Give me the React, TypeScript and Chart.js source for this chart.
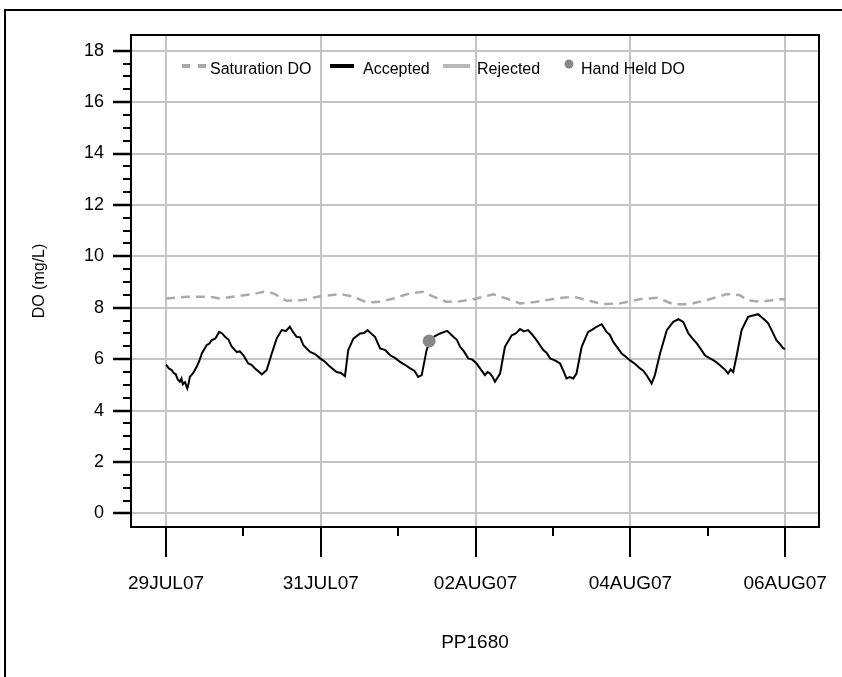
import React, { useEffect, useRef } from "react";
import { Chart, registerables } from "chart.js";

Chart.register(...registerables);

// hours since 29JUL07 00:00
const xTickHours = [0, 48, 96, 144, 192];
const xTickLabels = ["29JUL07", "31JUL07", "02AUG07", "04AUG07", "06AUG07"];
const xMinorHours = [24, 72, 120, 168];
const yTickValues = [0, 2, 4, 6, 8, 10, 12, 14, 16, 18];

const satHours = [0, 6.4, 13.6, 16.7, 21.9, 27.1, 30.2, 33.3, 37.4, 42.6, 47.8, 54.0, 58.1, 62.2, 66.4, 70.5, 75.7, 79.8, 82.9, 87.0, 90.1, 95.3, 101.5, 105.6, 109.8, 114.9, 121.1, 126.3, 130.4, 135.6, 140.8, 147.0, 152.2, 157.3, 162.5, 167.7, 173.9, 178.0, 180.1, 184.2, 190.4, 192.0];
const satDO = [8.36, 8.43, 8.43, 8.36, 8.45, 8.53, 8.62, 8.56, 8.27, 8.30, 8.45, 8.53, 8.43, 8.21, 8.23, 8.36, 8.56, 8.62, 8.43, 8.23, 8.23, 8.33, 8.52, 8.36, 8.17, 8.23, 8.36, 8.43, 8.30, 8.14, 8.17, 8.33, 8.39, 8.14, 8.14, 8.30, 8.53, 8.49, 8.30, 8.23, 8.33, 8.33];

const accHours = [0, 0.9, 1.8, 2.4, 3.0, 3.6, 4.3, 4.8, 5.2, 5.9, 6.6, 7.0, 7.4, 8.4, 9.5, 10.3, 11.1, 12.6, 13.4, 14.2, 15.3, 16.5, 17.4, 18.3, 19.4, 20.4, 21.9, 22.9, 24.0, 25.5, 26.5, 27.6, 28.7, 29.7, 31.2, 32.8, 34.3, 35.9, 37.2, 38.4, 39.4, 40.5, 41.6, 42.6, 44.7, 46.2, 47.8, 49.3, 50.9, 52.9, 54.2, 55.5, 56.5, 58.1, 60.2, 61.4, 62.5, 63.6, 64.8, 66.4, 68.0, 69.5, 71.0, 72.6, 74.1, 75.7, 77.0, 78.2, 79.3, 80.8, 81.9, 83.4, 85.0, 87.2, 89.1, 90.2, 91.2, 92.4, 93.7, 95.0, 96.3, 97.6, 98.9, 99.7, 100.5, 101.3, 102.0, 103.6, 105.1, 107.2, 108.5, 109.8, 111.0, 112.3, 113.6, 114.9, 117.0, 118.0, 119.1, 120.6, 122.2, 123.2, 124.2, 125.2, 126.3, 127.3, 128.9, 130.9, 132.2, 133.5, 135.1, 136.6, 137.6, 138.7, 140.0, 141.3, 142.5, 143.8, 145.4, 147.0, 148.0, 149.0, 150.6, 151.6, 153.2, 155.3, 157.3, 158.9, 160.4, 162.0, 163.3, 164.6, 165.8, 167.1, 168.4, 169.7, 171.0, 172.3, 173.3, 174.3, 175.1, 175.9, 176.9, 178.5, 180.5, 182.0, 183.6, 185.7, 186.7, 187.8, 189.3, 190.3, 191.4, 192.0];
const accDO = [5.79, 5.64, 5.57, 5.45, 5.42, 5.22, 5.12, 5.25, 5.02, 5.10, 4.86, 5.05, 5.31, 5.45, 5.70, 5.92, 6.22, 6.54, 6.60, 6.74, 6.80, 7.06, 7.00, 6.87, 6.75, 6.48, 6.28, 6.30, 6.15, 5.83, 5.78, 5.64, 5.52, 5.41, 5.57, 6.22, 6.80, 7.13, 7.10, 7.26, 7.05, 6.87, 6.85, 6.54, 6.28, 6.20, 6.03, 5.90, 5.70, 5.50, 5.46, 5.34, 6.35, 6.80, 7.00, 7.02, 7.13, 7.00, 6.87, 6.42, 6.35, 6.15, 6.05, 5.89, 5.78, 5.64, 5.55, 5.31, 5.38, 6.35, 6.74, 6.90, 7.00, 7.10, 6.87, 6.75, 6.48, 6.30, 6.03, 5.98, 5.83, 5.60, 5.38, 5.50, 5.44, 5.30, 5.12, 5.44, 6.48, 6.93, 7.00, 7.17, 7.08, 7.13, 6.95, 6.74, 6.35, 6.25, 6.03, 5.95, 5.83, 5.55, 5.25, 5.30, 5.25, 5.44, 6.48, 7.06, 7.15, 7.26, 7.36, 7.06, 6.95, 6.67, 6.45, 6.22, 6.10, 5.96, 5.82, 5.64, 5.55, 5.38, 5.05, 5.38, 6.22, 7.13, 7.45, 7.56, 7.45, 7.00, 6.80, 6.61, 6.40, 6.15, 6.05, 5.96, 5.85, 5.70, 5.60, 5.44, 5.60, 5.50, 6.09, 7.13, 7.65, 7.70, 7.75, 7.52, 7.40, 7.13, 6.74, 6.60, 6.42, 6.40];

const handHours = [81.6];
const handDO = [6.71];

const legendLabels = ["Saturation DO", "Accepted", "Rejected", "Hand Held DO"];

const FONT = "'Liberation Sans', Arial, sans-serif";

const decorPlugin = {
  id: "decor",
  afterDatasetsDraw(chart: any) {
    const { ctx, chartArea } = chart;
    ctx.save();
    ctx.strokeStyle = "#000";
    ctx.lineWidth = 2;
    ctx.strokeRect(chartArea.left, chartArea.top, chartArea.right - chartArea.left, chartArea.bottom - chartArea.top);
    ctx.restore();
  },
  afterDraw(chart: any) {
    const { ctx, chartArea, scales } = chart;
    const xs = scales.x;
    const ys = scales.y;
    ctx.save();
    ctx.strokeStyle = "#000";
    // y ticks
    for (let v = 0; v <= 18.001; v += 0.5) {
      const y = Math.round(ys.getPixelForValue(v));
      const major = Math.abs(v % 2) < 1e-6;
      ctx.lineWidth = major ? 2.5 : 2;
      ctx.beginPath();
      ctx.moveTo(chartArea.left - (major ? 18 : 8), y);
      ctx.lineTo(chartArea.left, y);
      ctx.stroke();
    }
    // x ticks
    ctx.lineWidth = 2;
    xTickHours.forEach((h) => {
      const x = Math.round(xs.getPixelForValue(h));
      ctx.beginPath();
      ctx.moveTo(x, chartArea.bottom);
      ctx.lineTo(x, chartArea.bottom + 30);
      ctx.stroke();
    });
    xMinorHours.forEach((h) => {
      const x = Math.round(xs.getPixelForValue(h));
      ctx.beginPath();
      ctx.moveTo(x, chartArea.bottom);
      ctx.lineTo(x, chartArea.bottom + 9);
      ctx.stroke();
    });

    // legend
    const ly = 66;
    ctx.font = `16px ${FONT}`;
    ctx.fillStyle = "#000";
    ctx.textBaseline = "alphabetic";
    // Saturation DO
    ctx.strokeStyle = "#aaaaaa";
    ctx.lineWidth = 4;
    ctx.beginPath();
    ctx.moveTo(182, ly);
    ctx.lineTo(190, ly);
    ctx.moveTo(198, ly);
    ctx.lineTo(206, ly);
    ctx.stroke();
    ctx.fillText(legendLabels[0], 210, 74);
    // Accepted
    ctx.strokeStyle = "#000";
    ctx.beginPath();
    ctx.moveTo(330, ly);
    ctx.lineTo(354, ly);
    ctx.stroke();
    ctx.fillText(legendLabels[1], 363, 74);
    // Rejected
    ctx.strokeStyle = "#b8b8b8";
    ctx.beginPath();
    ctx.moveTo(443, ly);
    ctx.lineTo(470, ly);
    ctx.stroke();
    ctx.fillText(legendLabels[2], 477, 74);
    // Hand Held DO
    ctx.fillStyle = "#888888";
    ctx.beginPath();
    ctx.arc(569, 64, 4.5, 0, Math.PI * 2);
    ctx.fill();
    ctx.fillStyle = "#000";
    ctx.fillText(legendLabels[3], 581, 74);

    // outer frame
    ctx.strokeStyle = "#000";
    ctx.lineWidth = 2;
    ctx.strokeRect(5, 10, 900, 900);
    ctx.restore();
  },
};

export default function App() {
  const ref = useRef<HTMLCanvasElement>(null);
  useEffect(() => {
    const sat = satHours.map((h, i) => ({ x: h, y: satDO[i] }));
    const acc = accHours.map((h, i) => ({ x: h, y: accDO[i] }));
    const hand = handHours.map((h, i) => ({ x: h, y: handDO[i] }));
    const chart = new Chart(ref.current as HTMLCanvasElement, {
      type: "line",
      data: {
        datasets: [
          { label: legendLabels[0], data: sat, borderColor: "#aaaaaa", borderWidth: 2.5, borderDash: [9, 6], pointRadius: 0, tension: 0, fill: false, order: 2 },
          { label: legendLabels[1], data: acc, borderColor: "#000", borderWidth: 2, pointRadius: 0, tension: 0, fill: false, order: 1 },
          { label: legendLabels[3], data: hand, showLine: false, pointRadius: 6.5, pointBackgroundColor: "#888888", pointBorderWidth: 0, borderColor: "#888888", order: 0 },
        ],
      },
      options: {
        animation: false,
        responsive: false,
        events: [],
        layout: { padding: { left: 0, top: 35, right: 23, bottom: 0 } },
        plugins: { legend: { display: false }, tooltip: { enabled: false } },
        scales: {
          x: {
            type: "linear",
            min: -10.86,
            max: 202.5,
            afterFit: (s: any) => { s.height = 150; s.paddingLeft = 0; s.paddingRight = 0; s.paddingTop = 0; s.paddingBottom = 0; },
            afterBuildTicks: (s: any) => { s.ticks = xTickHours.map((v) => ({ value: v })); },
            ticks: {
              callback: (v: any) => xTickLabels[xTickHours.indexOf(Number(v))] ?? "",
              font: { family: FONT, size: 19 },
              color: "#000",
              padding: 45,
              maxRotation: 0,
              autoSkip: false,
            },
            grid: { color: "#c4c4c4", lineWidth: 2, drawTicks: false },
            border: { display: false },
            title: { display: true, text: "PP1680", font: { family: FONT, size: 19 }, color: "#000", padding: { top: 0, bottom: 23 } },
          },
          y: {
            type: "linear",
            min: -0.53,
            max: 18.61,
            afterFit: (s: any) => { s.width = 131; s.paddingLeft = 0; s.paddingRight = 0; s.paddingTop = 0; s.paddingBottom = 0; },
            afterBuildTicks: (s: any) => { s.ticks = yTickValues.map((v) => ({ value: v })); },
            ticks: {
              font: { family: FONT, size: 18 },
              color: "#000",
              padding: 27,
              autoSkip: false,
            },
            grid: { color: "#c4c4c4", lineWidth: 2, drawTicks: false },
            border: { display: false },
            title: { display: true, text: "DO (mg/L)", font: { family: FONT, size: 16 }, color: "#000", padding: { top: 30, bottom: 0 } },
          },
        },
      } as any,
      plugins: [decorPlugin],
    });
    return () => chart.destroy();
  }, []);
  return (
    <div style={{ position: "fixed", left: 0, top: 0, width: 842, height: 677, background: "#fff" }}>
      <canvas ref={ref} width={842} height={677} style={{ display: "block" }} />
    </div>
  );
}
